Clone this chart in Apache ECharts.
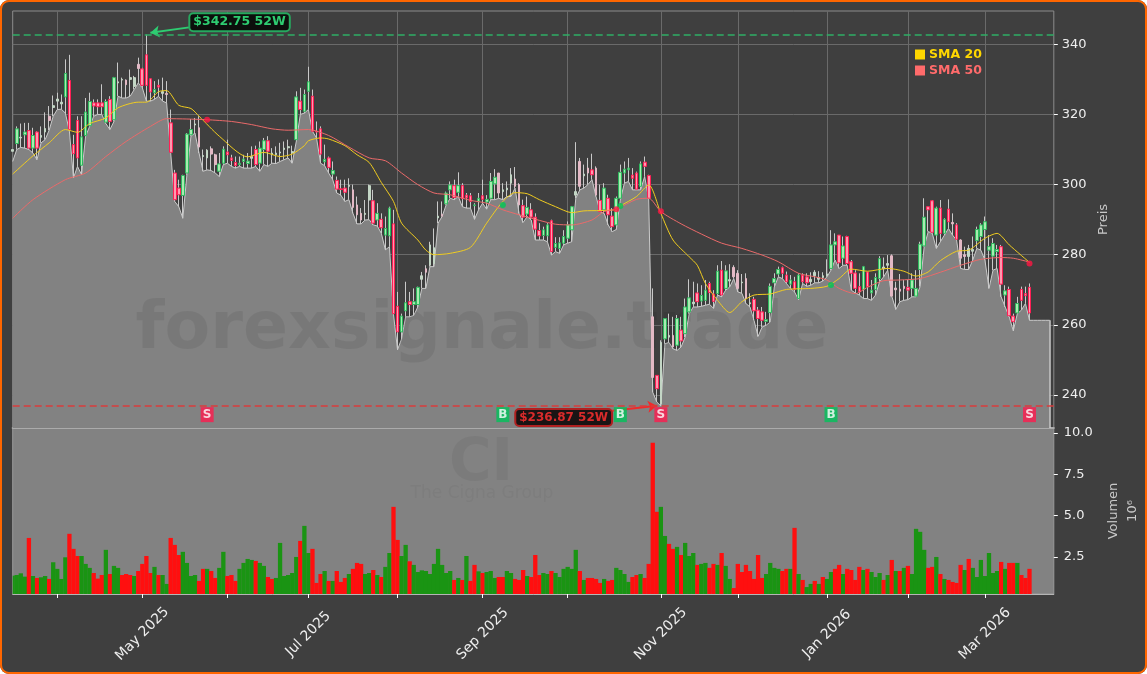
<!DOCTYPE html>
<html lang="de">
<head>
<meta charset="UTF-8">
<title>CI - The Cigna Group</title>
<script src="https://cdn.jsdelivr.net/npm/echarts@6/dist/echarts.min.js"></script>
<style>
  html, body { margin: 0; padding: 0; background: #fff; }
  #chart { position: absolute; left: 0; top: 0; width: 1147px; height: 674px; border-radius: 9px; overflow: hidden; }
  #frame { position: absolute; left: 0; top: 0; width: 1147px; height: 674px; box-sizing: border-box;
           border: 2.5px solid #ff6600; border-radius: 9px; pointer-events: none; }
</style>
</head>
<body>
<div id="chart"></div>
<div id="frame"></div>
<script>
// daily candles: open, close, low, high
const ohlc = [
  [309.5,310,306.6,311.9],[311.7,315.9,310,316.6],[313.3,313.5,310.6,317.4],[314.2,315,310.4,317.6],[315.4,310.4,310,317.6],
  [310.4,314,309,316.2],[315,310.4,307.1,315.2],[313.5,314,311.9,316.6],[315,316,312.8,320.6],[319.5,318.3,315.5,322.4],
  [322,322.5,319.5,325.4],[323.8,324.4,321.4,326.2],[323,323.5,321.5,325.7],[325,331.7,320.4,335.7],[329.7,315.7,315.2,337],
  [311.4,308.8,301.9,314.2],[318.3,307.6,305.2,319.5],[305.5,313.6,302.8,319.5],[314,320.7,313.8,324.7],[316.8,323.7,316.6,326.2],
  [323.3,322.4,319.5,324.3],[323.3,322.2,320,324.3],[323.3,322.2,320,328.6],[317.8,323.7,317.4,324.3],[324.3,318,315.7,325.2],
  [318.5,330.5,318,330.7],[329,329.3,325.2,334.8],[329.8,330,324.7,330.5],[329.8,328.5,324.7,330],[330,330.5,325.2,332.8],
  [328,330.5,327.1,331],[334.3,333.1,329,336.2],[333,328.3,327.6,333.3],[337,328.3,323.8,342.75],[330.2,326.4,323.8,330.2],
  [326.2,327.1,324.3,329.5],[328.3,327.8,325.2,330],[326,326.5,323.8,330.5],[326,325.7,323.3,329.5],[317.6,309.2,309,321.4],
  [303.3,295.7,295.2,304.2],[299,297.1,293.7,301.4],[296.9,302.6,290.4,302.8],[303.3,314.4,302.8,314.7],[314.2,315.7,313.8,318.7],
  [317,317.3,314.7,319],[316.2,310.7,309,319.5],[308,308.3,303.8,310],[307.6,309.8,304.2,310.1],[310.2,308.7,304,310.9],
  [308.5,305.7,303.3,308.8],[303.8,305.9,302.3,309],[306.1,310.1,305.7,310.9],[309.3,308.5,306.1,312.8],[307.6,306.9,305.2,308.5],
  [306.3,305.4,304.7,308],[305.7,306.1,305.2,308],[306.6,307.3,304.7,308.5],[306,306.7,304.7,309],[307.5,308,304.7,310.9],
  [310,305.7,305.2,311.1],[306.1,310.4,303.8,312.3],[310,312.5,305.7,313.3],[312.5,309.5,305.2,313.8],[308.5,309,306.1,310.4],
  [308.5,309,306,310.9],[309,309.3,306.6,311.9],[310,310.4,307.1,312.3],[310.5,310.8,307.6,312.8],[309,309.4,306.1,311.1],
  [312.8,325,312.3,326.6],[323.8,321.4,320,327.6],[320.9,325.7,320.4,327.1],[326.6,329.3,321.4,333.6],[325.2,315.2,315.2,327.1],
  [315.2,315,313.3,318],[315.9,308.7,306.1,316.6],[306.5,307.2,305.4,311.4],[307.6,304.9,303.3,308],[303,304,301.4,306.6],
  [301.2,298.7,297.6,302.3],[298.8,298.6,297,301.4],[299,297.8,295.2,301.4],[299.5,299.8,295.7,301.8],[298.5,293.5,291.8,300],
  [294.2,291.4,288.8,296.6],[291.8,289.9,288.8,293.3],[291.5,291.8,289.9,295.6],[295.6,299.7,290,300],[295.4,289,288.5,298.5],
  [289.9,291.8,288.2,294.7],[290.1,287.7,286.1,291.8],[285.6,287.5,281.4,290.9],[285.4,293.3,282.3,293.7],[288.8,263.2,263,292.8],
  [265.3,258,252.9,269.4],[258,262.5,256,263.2],[264,266.3,262.3,272.3],[266.6,265.8,262.3,269.4],[265.8,266.6,262.7,270.4],
  [265.8,270.7,265.1,270.9],[273,274,270.4,275.1],[276,275,270.4,277],[277,282.8,276.6,283.7],[277.5,282,276.6,287.5],
  [290.5,291,289,295.2],[291.5,291,290.9,295.2],[294.5,297.6,294.2,298],[298.5,299.9,296.1,300.9],[299.7,296.3,295.7,301.4],
  [297.8,299.7,296.6,303.5],[299.7,296,293.7,300.4],[297,296.2,293.3,297.6],[296.8,295.2,293.3,297.6],[294,294.2,290.1,294.7],
  [295.2,296.1,292.8,297.6],[296.8,295.8,294.7,301.4],[295,295.8,293,297],[296.1,300.9,295.7,303.3],[300.2,302.1,295.7,304.4],
  [303.3,297.6,296.1,303.3],[298,298.5,295.7,300.4],[298.5,299,296.6,300.9],[300.4,302.8,296.6,304.7],[301.6,299.5,299,305],
  [300,294.2,291.8,300.4],[294,290.7,289.2,295.7],[291.6,293.5,290.9,296.6],[292.8,290.7,289.9,294.7],[290.7,287.3,284.2,291.8],
  [286.9,285.4,284.2,289],[285.5,287.1,284.2,288],[285.4,288.5,283.7,289],[289.7,280.9,279.9,290],[282.1,283.2,280.9,285],
  [281.8,283.4,280.4,285],[283.3,285.2,282.8,287],[284.7,288.5,283.3,289.5],[287.1,293.7,283.7,293.9],[297,298,296.1,312.1],
  [306.6,299.5,298.5,307.6],[302.5,303,299,305.7],[304.7,303.3,300,307.6],[304.2,302.8,301.4,308.8],[304.7,297,296.6,305.2],
  [295.5,292.3,292.3,300],[292.8,299,291.8,300.4],[296.1,291.4,288.5,297.1],[291,288,286.6,293.3],[288.5,296.1,287.2,296.6],
  [296.1,303.5,295.7,305.7],[303.3,304.4,300.4,306.6],[304.2,304.7,300.9,307.6],[302.7,301.8,298.5,304.7],[303.3,298.7,298.5,303.7],
  [299.5,305.9,298.5,306.6],[306.4,305.2,302.3,308],[302.6,296.1,295.9,302.8],[262.3,245,240.8,270.4],[245.6,241.8,238,245.6],
  [237.5,255,236.87,255.6],[256,261.8,254.6,261.8],[256.5,257,255,263.2],[257,253.7,253.2,262.3],[254.2,261.8,252.7,262.8],
  [258.5,255.4,253.7,262.3],[257.5,265.1,256.5,267.5],[263.7,267.7,263.2,273],[266,266.5,265.1,272.3],[269.1,266.6,265.1,271.8],
  [266.8,268.4,265.3,271.3],[267,269.9,265.6,272.8],[271.8,269.2,265.9,272.3],[268.8,266.7,264.7,269.9],[268.9,275.3,268.5,277],
  [275.6,268.5,268,278.2],[270.4,275.4,269.9,277],[272.5,272.9,270.8,277.3],[276.4,273.7,273.2,277],[274.7,270.4,269.4,275.6],
  [272,272.2,269,274.5],[273.2,267.5,266.1,274.7],[266,266.3,265.1,269],[267.3,264,261.3,268],[264.2,261.8,256.7,265.1],
  [263.7,261.3,259.4,265.1],[261,261.5,259.9,263.7],[263.5,271,260.8,271.8],[272,273.2,270.8,274.7],[274.5,275.8,273.7,276.6],
  [276.3,274.7,273.2,276.6],[274.2,272.3,271.8,275.2],[271.6,272.8,270.4,274.2],[272.3,270.1,269.4,273.7],[267.5,274.2,267.2,274.7],
  [274.2,272.3,271.8,274.7],[273.7,272,271,274.7],[272.3,273,271.3,275],[274,275,272,275.6],[273,273.5,272,275.3],
  [273.5,274,272.5,275],[274,274.5,273.7,278.7],[276.1,282.8,275.6,287],[282.8,283.7,278.5,286.1],[285.6,277.7,276.1,285.6],
  [279,282.5,277,285.2],[285.2,277.5,277,285.4],[278,274.7,269.9,278.5],[274.8,270.4,269.1,275.6],[270.9,269.4,268.5,274.7],
  [270.1,276.6,267.5,276.8],[275.1,270.9,267.5,275.1],[269.1,269.9,267,272.8],[270.1,273.5,268.5,274.7],[273.2,278.9,272.3,279.6],
  [276,276.5,273.7,279.2],[277,277.5,275.6,279.9],[279.7,268.2,268.2,280.1],[270.5,270,264.4,272.3],[270.2,269.6,266.6,274.5],
  [271,270.4,267,272.8],[270.7,269.9,267.2,272.8],[270.4,272.8,268,274.7],[268.2,270.4,268,275.6],[275.8,283,270.9,283.7],
  [282.5,290.7,282.3,296.1],[293.7,292.8,286.6,293.7],[295.4,286.4,286.1,295.6],[285.6,293.3,281.8,293.7],[293.3,286.1,283.7,295.6],
  [286.1,290.1,285.6,290.4],[293,289.4,287.5,295.8],[289.2,288.8,285.6,291.8],[288.5,284.4,284.2,289],[284.2,279,276.1,284.4],
  [280,279.5,275.8,282.3],[279.5,281.8,275.8,282.8],[281,281.5,278.5,285.2],[284,287.2,281.8,288],[285.2,288.5,281.3,289],
  [287.2,289.4,278.5,290.9],[281.3,282.3,270.4,285.6],[279.6,283.2,275.6,284.7],[280.9,281.5,276.1,282.8],[282.3,271.6,268,282.8],
  [268.5,269.7,265.1,271.3],[270.1,262.6,262.3,270.9],[262.5,260.9,258.3,263.2],[263.4,266.1,263.2,268],[270.1,267,264.2,270.9],
  [268.9,268.3,266.1,270.9],[270.7,263.4,261.3,271.8]
];
const areaTail = [261.3, 261.3, 261.3, 261.3, 261.3];

// candles that show up thinner and washed out
const paleCandles = [0,2,7,8,9,10,11,12,26,27,28,29,30,31,37,38,45,46,47,48,49,50,59,64,65,66,67,68,69,
  83,84,85,86,87,88,101,102,103,104,105,106,120,121,122,123,124,125,139,140,141,142,144,158,160,162,163,168,
  177,178,179,180,181,182,197,198,199,200,201,215,216,217,218,219,220,232,234,235,236,237];

// volume in millions
const volume = [
  1.37,1.41,1.51,1.31,3.65,1.35,1.23,1.27,1.35,1.17,
  2.18,1.78,1.17,2.48,3.9,2.99,2.56,2.56,2.08,1.84,
  1.53,1.19,1.41,2.93,1.47,1.96,1.84,1.41,1.47,1.41,
  1.35,1.65,2.08,2.56,1.53,1.9,1.41,1.41,0.87,3.65,
  3.23,2.62,2.81,2.14,1.35,1.41,1.05,1.78,1.78,1.65,
  1.23,1.84,2.81,1.35,1.41,1.05,1.78,2.14,2.38,2.32,
  2.26,2.14,1.96,1.29,1.17,1.23,3.35,1.35,1.41,1.53,
  2.5,3.47,4.38,2.74,2.99,0.93,1.47,1.65,1.05,1.05,
  1.65,0.99,1.23,1.47,1.78,2.14,2.08,1.47,1.53,1.71,
  1.41,1.29,1.9,2.74,5.53,3.53,2.56,3.23,2.24,2.02,
  1.59,1.69,1.65,1.47,2.08,2.99,2.02,1.53,1.65,1.11,
  1.23,1.11,2.56,1.05,2.02,1.63,1.53,1.59,1.65,1.23,
  1.29,1.29,1.65,1.53,1.17,1.11,1.71,1.35,1.29,2.62,
  1.41,1.53,1.47,1.65,1.53,1.29,1.78,1.9,1.78,2.93,
  1.65,1.11,1.23,1.23,1.17,0.93,1.17,1.05,1.11,1.84,
  1.71,1.47,0.99,1.29,1.41,1.47,1.23,2.08,9.41,5.23,
  5.53,3.77,3.29,2.99,3.11,2.62,3.35,2.56,2.74,2.02,
  2.08,2.14,1.84,2.08,2.02,2.74,1.96,1.17,0.62,2.08,
  1.59,2.02,1.65,1.17,2.62,1.23,1.47,2.14,1.84,1.78,
  1.65,1.78,1.78,4.26,1.47,1.11,0.68,0.87,1.05,0.87,
  1.29,1.17,1.59,1.78,2.02,1.47,1.78,1.71,1.11,1.9,
  1.71,1.78,1.59,1.29,1.53,1.11,1.41,2.32,1.65,1.65,
  1.84,1.96,1.47,4.2,4.02,2.93,1.84,1.9,2.5,1.47,
  1.17,1.11,0.99,0.93,2.02,1.71,2.38,1.84,1.29,2.32,
  1.35,2.74,1.53,1.65,2.2,1.78,2.14,2.14,2.14,1.41,
  1.23,1.78
];
// U = green bar, D = red bar
const volumeSide = (
  'UUUUDUDUUD' + 'UUUUDDDUUU' + 'DDDUDUUDDD' + 'UDDDDUDUUD' + 'DDUUUUDDUD' +
  'DUUDDDUUUU' + 'DUUDDUUUUU' + 'UDUUDDDUDU' + 'DDDUDDDUUD' + 'UDUUDDUUDU' +
  'UUUUUUUUUD' + 'UDUDDUDUUU' + 'DDUUDDDUDD' + 'DUUDUUUUUU' + 'DUDDDDUDDU' +
  'UUUDDUDDDD' + 'UUDDUDUUUD' + 'UUDDUDUUDD' + 'DDDDDDUUUU' + 'DDUDUDUUDU' +
  'DUUDDUDDDD' + 'UDUUUDUDUD' + 'UDUUUUDDUD' + 'UDDDDUDUUU' + 'UUUUDUDDUD' + 'DD'
).split('');

// [candle number, average]
const sma20 = [[0,303],[5,308.2],[9,311.9],[13,315.7],[16,314.9],[19,317.4],[23,319],[26,321.9],[31,323.5],[33,323.5],
  [36,326.5],[38,326.8],[41,322.6],[44,321.7],[46,319.5],[51,313.8],[58,307.9],[62,309.2],[66,308],[69,308.7],
  [72,311.1],[73,312.5],[76,313.3],[78,313],[82,311.1],[85,308.5],[88,306.3],[91,300.6],[94,295.2],[96,289],
  [100,284.2],[102,281.3],[104,280],[108,280.4],[113,282.1],[117,289],[121,295.2],[124,297.7],[127,297.4],[130,295.7],
  [134,293.7],[138,292],[141,292.5],[145,292.6],[149,292.9],[150,293.9],[154,296.6],[157,299.9],[160,291.8],[163,284.2],
  [167,279.4],[169,277],[171,271.8],[174,267],[177,263.5],[180,266.6],[183,268.5],[187,268.8],[191,270.1],[197,270.4],
  [201,271],[204,273.2],[207,275.9],[211,275.3],[216,276.1],[220,275.3],[223,273.9],[226,275.1],[229,278.3],[233,281],
  [236,281.3],[240,284.7],[243,286.1],[246,282.8],[251,277.8]];
const sma50 = [[0,290.4],[5,295.7],[13,301.4],[18,303.3],[23,308],[28,312.3],[34,316.6],[38,318.8],[43,318.7],[48,318.5],
  [54,318],[59,317.1],[64,315.9],[68,315.5],[73,315.7],[78,314],[83,310.7],[88,307.6],[92,306.8],[96,303.3],
  [100,300],[104,297.6],[108,297.1],[113,295.5],[117,294.7],[121,292.8],[125,291.4],[130,289.8],[134,288.7],[138,288.5],
  [143,289.9],[146,292.3],[149,293],[154,295.8],[157,296.1],[160,292.3],[165,288.8],[170,285.9],[175,283.3],[180,281.8],
  [185,279.9],[189,278],[194,274.7],[198,273.7],[201,272.8],[204,270.4],[208,268.9],[211,270.7],[215,272.6],[219,272.8],
  [224,273.2],[229,275],[234,277],[239,278.7],[244,279.2],[247,279],[251,277.9]];

const high52 = 342.75;
const low52 = 236.87;
const buyDots = [[121,294.2],[150,293.9],[202,271.4]];
const sellDots = [[48,318.5],[149,293],[160,292.4],[251,277.5]];
const buyTags = [121,150,202];
const sellTags = [48,160,251];
const tagPrice = 234.4;

const priceTicks = [240,260,280,300,320,340];
const volumeTicks = [2.5,5,7.5,10];
const tickLabels = ['May 2025','Jul 2025','Sep 2025','Nov 2025','Jan 2026','Mar 2026'];
const holidays = ['2025-04-18','2025-05-26','2025-06-19','2025-07-04','2025-09-01','2025-11-27','2025-12-25','2026-01-01','2026-01-19','2026-02-16'];
const monthNames = ['Jan','Feb','Mar','Apr','May','Jun','Jul','Aug','Sep','Oct','Nov','Dec'];

// trading calendar, one slot per session, a few empty ones after the last candle
const dates = [];
for (let d = new Date(Date.UTC(2025, 2, 17)); dates.length < 258; d.setUTCDate(d.getUTCDate() + 1)) {
  const iso = d.toISOString().slice(0, 10);
  const wd = d.getUTCDay();
  if (wd !== 0 && wd !== 6 && !holidays.includes(iso)) dates.push(iso);
}
const isMonthStart = i => i > 0 && dates[i].slice(0, 7) !== dates[i - 1].slice(0, 7);
const monthLabel = iso => monthNames[+iso.slice(5, 7) - 1] + ' ' + iso.slice(0, 4);

const priceMin = 230.59, priceMax = 349.5;
const volMin = 0.26, volMax = 10.3;
const fontName = '"DejaVu Sans"';
const txt = '#eeeeee';

const chart = echarts.init(document.getElementById('chart'));
const paleSet = new Set(paleCandles);

// body only, the wick comes from its own series
const bodyOf = r => [r[0], r[1], Math.min(r[0], r[1]), Math.max(r[0], r[1])];
const bodies = ohlc.map((r, i) => paleSet.has(i) ? '-' : bodyOf(r));
const paleBodies = ohlc.map((r, i) => paleSet.has(i) ? bodyOf(r) : '-');

// volume bars, the first one is cut in half by the left edge of the panel
function renderVolume(params, api) {
  const i = api.value(0);
  const top = api.coord([i, api.value(1)]);
  const base = api.coord([i, volMin]);
  const w = 4.3;
  const shape = echarts.graphic.clipRectByRect(
    { x: top[0] - w / 2, y: top[1], width: w, height: base[1] - top[1] },
    params.coordSys
  );
  return shape && {
    type: 'rect', shape: shape,
    style: { fill: volumeSide[params.dataIndex] === 'U' ? '#1a9413' : '#ff0f0f' }
  };
}

chart.setOption({
  animation: false,
  backgroundColor: '#3f3f3f',
  textStyle: { fontFamily: fontName },
  grid: [
    { left: 12.7, right: 93.2, top: 11, height: 417, show: true, borderColor: '#8c8c8c', borderWidth: 1, outerBoundsMode: 'none' },
    { left: 12.7, right: 93.2, top: 428, height: 166, show: true, backgroundColor: '#828282', borderColor: '#9a9a9a', borderWidth: 1, outerBoundsMode: 'none' }
  ],
  xAxis: [
    {
      type: 'category', gridIndex: 0, data: dates, boundaryGap: false,
      axisLine: { onZero: false, lineStyle: { color: '#ababab', width: 2 } },
      axisTick: { show: false }, axisLabel: { show: false },
      splitLine: { show: true, interval: i => isMonthStart(i), lineStyle: { color: '#6a6a6a', width: 1 } }
    },
    {
      type: 'category', gridIndex: 1, data: dates, boundaryGap: false,
      axisLine: { onZero: false, lineStyle: { color: '#b5b5b5', width: 1 } },
      axisTick: { show: true, interval: i => isMonthStart(i), length: 4, lineStyle: { color: '#ffffff' } },
      axisLabel: {
        interval: i => isMonthStart(i) && tickLabels.includes(monthLabel(dates[i])),
        formatter: v => monthLabel(v),
        rotate: 45, align: 'center', verticalAlign: 'middle', margin: 40,
        color: txt, fontSize: 14, fontFamily: fontName, hideOverlap: false
      },
      splitLine: { show: false }
    }
  ],
  yAxis: [
    {
      type: 'value', gridIndex: 0, position: 'right', min: priceMin, max: priceMax,
      name: 'Preis', nameLocation: 'middle', nameRotate: 90, nameGap: 43,
      nameTextStyle: { color: '#c8c8c8', fontSize: 13, fontFamily: fontName },
      axisLine: { show: false },
      axisTick: { show: true, length: 4, customValues: priceTicks, lineStyle: { color: '#ffffff' } },
      axisLabel: { customValues: priceTicks, color: txt, fontSize: 13, margin: 8, fontFamily: fontName, padding: [3, 0, 0, 0] },
      splitLine: { show: true, lineStyle: { color: '#6a6a6a', width: 1 } }
    },
    {
      type: 'value', gridIndex: 1, position: 'right', min: volMin, max: volMax,
      name: 'Volumen\n10⁶', nameLocation: 'middle', nameRotate: 90, nameGap: 42.5,
      nameTextStyle: { color: '#c8c8c8', fontSize: 13, fontFamily: fontName, lineHeight: 19 },
      axisLine: { show: false },
      axisTick: { show: true, length: 4, customValues: volumeTicks, lineStyle: { color: '#ffffff' } },
      axisLabel: { customValues: volumeTicks, color: txt, fontSize: 13, margin: 10, fontFamily: fontName, padding: [4, 0, 0, 0], formatter: v => v.toFixed(1) },
      splitLine: { show: false }
    }
  ],
  legend: {
    left: 910, top: 43, orient: 'vertical', itemWidth: 10, itemHeight: 10, itemGap: 3, icon: 'rect',
    selectedMode: false,
    data: [
      { name: 'SMA 20', textStyle: { color: '#ffd700' } },
      { name: 'SMA 50', textStyle: { color: '#ff6b6b' } }
    ],
    textStyle: { fontSize: 12.5, fontWeight: 'bold', fontFamily: fontName, padding: [0, 0, 0, -1] }
  },
  graphic: {
    elements: [
      { type: 'text', z: 2, x: 482, y: 331, style: { text: 'forexsignale.trade', font: 'bold 66.5px "DejaVu Sans"', fill: 'rgba(0,0,0,0.07)', textAlign: 'center', textVerticalAlign: 'middle' } },
      { type: 'text', z: 2, x: 481, y: 465, style: { text: 'CI', font: 'bold 58px "DejaVu Sans"', fill: 'rgba(0,0,0,0.05)', textAlign: 'center', textVerticalAlign: 'middle' } },
      { type: 'text', z: 2, x: 482, y: 494, style: { text: 'The Cigna Group', font: '17px "DejaVu Sans"', fill: 'rgba(0,0,0,0.035)', textAlign: 'center', textVerticalAlign: 'middle' } }
    ]
  },
  series: [
    {
      name: 'Low', type: 'line', xAxisIndex: 0, yAxisIndex: 0, z: 1, symbol: 'none', silent: true,
      data: ohlc.map(r => r[2]).concat(areaTail),
      lineStyle: { color: '#cbcbcb', width: 1 },
      areaStyle: { color: '#828282', opacity: 1, origin: 'start' },
      markLine: {
        silent: true, symbol: 'none', label: { show: false },
        lineStyle: { color: '#cbcbcb', width: 1.5, type: 'solid' },
        data: [[{ coord: [dates[256], areaTail[4]] }, { coord: [dates[256], priceMin] }]]
      }
    },
    {
      name: 'Docht', type: 'candlestick', xAxisIndex: 0, yAxisIndex: 0, z: 3, barWidth: 1, silent: true,
      data: ohlc.map(r => [r[2], r[3], r[2], r[3]]),
      itemStyle: { color: '#c9c9c9', color0: '#c9c9c9', borderColor: '#c9c9c9', borderColor0: '#c9c9c9', borderWidth: 1 }
    },
    {
      name: 'Kurs blass', type: 'candlestick', xAxisIndex: 0, yAxisIndex: 0, z: 3, barWidth: 2.2, silent: true,
      data: paleBodies,
      itemStyle: { color: '#c3d6c5', color0: '#e3b9c5', borderColor: '#c3d6c5', borderColor0: '#e3b9c5', borderWidth: 1 }
    },
    {
      name: 'Kurs', type: 'candlestick', xAxisIndex: 0, yAxisIndex: 0, z: 3, barWidth: 3.2, silent: true,
      data: bodies,
      itemStyle: { color: '#a8ecb0', color0: '#ff9ab0', borderColor: '#2fb95f', borderColor0: '#ff1f55', borderWidth: 1 }
    },
    {
      name: 'SMA 20', type: 'line', xAxisIndex: 0, yAxisIndex: 0, z: 4, symbol: 'none', silent: true, smooth: 0.25,
      data: sma20,
      itemStyle: { color: '#ffd700' }, lineStyle: { color: '#f0cc20', width: 1 },
      markLine: {
        silent: true, symbol: ['none', 'arrow'], symbolSize: 9, label: { show: false },
        data: [
          [{ coord: [dates[44], 344.9] }, { coord: [dates[34], 343.3], lineStyle: { color: '#2ecc71', width: 2, type: 'solid' } }],
          [{ coord: [dates[148], 235.5] }, { coord: [dates[159], 236.95], lineStyle: { color: '#f02a2a', width: 2, type: 'solid' } }]
        ]
      },
      markPoint: {
        silent: true, symbol: 'rect', symbolSize: 1,
        data: [
          {
            coord: [dates[56], 346.3], itemStyle: { color: 'rgba(0,0,0,0)' },
            label: { show: true, position: 'inside', formatter: '$342.75 52W', color: '#2ecc71', fontSize: 12.5, fontWeight: 'bold', fontFamily: fontName,
              backgroundColor: '#0c0f0c', borderColor: '#27a85f', borderWidth: 2, borderRadius: 3, padding: [2, 3, 1, 3] }
          },
          {
            coord: [dates[136], 233.56], itemStyle: { color: 'rgba(0,0,0,0)' },
            label: { show: true, position: 'inside', formatter: '$236.87 52W', color: '#d92b2b', fontSize: 12, fontWeight: 'bold', fontFamily: fontName,
              backgroundColor: '#1a1414', borderColor: '#b02020', borderWidth: 2, borderRadius: 3, padding: [2, 3, 1, 3] }
          }
        ]
      }
    },
    {
      name: 'SMA 50', type: 'line', xAxisIndex: 0, yAxisIndex: 0, z: 4, symbol: 'none', silent: true, smooth: 0.25,
      data: sma50,
      itemStyle: { color: '#ff6b6b' }, lineStyle: { color: '#ea6a6a', width: 1 },
      markLine: {
        silent: true, symbol: 'none', label: { show: false },
        data: [
          { yAxis: high52, lineStyle: { color: '#2fae66', width: 1.6, type: [7, 4] } },
          { yAxis: low52, lineStyle: { color: '#d93c3c', width: 1.6, type: [7, 4] } }
        ]
      }
    },
    {
      name: 'Kauf', type: 'scatter', xAxisIndex: 0, yAxisIndex: 0, z: 5, symbolSize: 6, silent: true,
      data: buyDots, itemStyle: { color: '#00c853' }
    },
    {
      name: 'Verkauf', type: 'scatter', xAxisIndex: 0, yAxisIndex: 0, z: 5, symbolSize: 6, silent: true,
      data: sellDots, itemStyle: { color: '#ff1744' }
    },
    {
      name: 'B', type: 'scatter', xAxisIndex: 0, yAxisIndex: 0, z: 6, symbol: 'rect', symbolSize: [13, 15], silent: true,
      data: buyTags.map(i => [i, tagPrice]), itemStyle: { color: '#00c35a' },
      label: { show: true, position: 'inside', formatter: 'B', color: '#ffffff', fontSize: 12, fontWeight: 'bold', fontFamily: fontName }
    },
    {
      name: 'S', type: 'scatter', xAxisIndex: 0, yAxisIndex: 0, z: 6, symbol: 'rect', symbolSize: [13, 15], silent: true,
      data: sellTags.map(i => [i, tagPrice]), itemStyle: { color: '#ff1a4d' },
      label: { show: true, position: 'inside', formatter: 'S', color: '#ffffff', fontSize: 12, fontWeight: 'bold', fontFamily: fontName }
    },
    {
      name: 'Volumen', type: 'custom', xAxisIndex: 1, yAxisIndex: 1, z: 3, silent: true,
      renderItem: renderVolume, encode: { x: 0, y: 1 },
      data: volume.map((v, i) => [i, v])
    }
  ]
});
</script>
</body>
</html>
